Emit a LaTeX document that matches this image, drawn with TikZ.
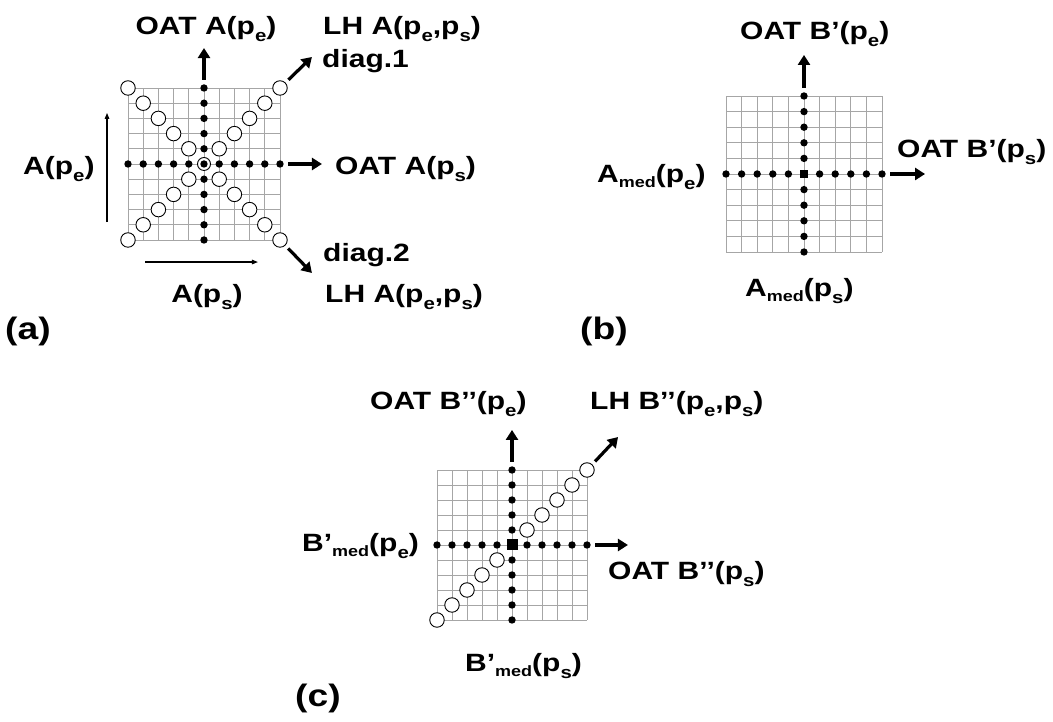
\documentclass[tikz,border=0pt]{standalone}
\usepackage{fontspec}
\setmainfont{Liberation Sans}[FakeStretch=1.2]
\usepackage{tikz}
\usetikzlibrary{arrows.meta}

\newcommand{\sbs}[1]{\raisebox{-7pt}{\fontsize{17}{17}\selectfont #1}}
\newcommand{\med}{\raisebox{-4.5pt}{\fontsize{15}{15}\selectfont med}}

\tikzset{
  gridline/.style={gray!70, line width=0.8pt},
  dot/.style={circle, fill=black, inner sep=0pt, minimum size=7.4pt},
  ring/.style={circle, draw=black, fill=white, line width=0.9pt, inner sep=0pt, minimum size=14.5pt},
  sq/.style={rectangle, fill=black, inner sep=0pt, minimum size=#1},
  bigarrow/.style={line width=3.2pt, -{Triangle[length=10pt,width=12pt]}},
  thinarrow/.style={line width=1.2pt, -{Triangle[length=6pt,width=4.5pt]}},
  lbl/.style={inner sep=0pt, font=\bfseries\fontsize{25}{30}\selectfont},
  tag/.style={inner sep=0pt, font=\bfseries\fontsize{31}{36}\selectfont}
}

\begin{document}
\begin{tikzpicture}[x=1pt,y=1pt]
    \useasboundingbox (0,0) rectangle (1053,722);

    % (a)
    \begin{scope}[shift={(204,558)}, x=15.2pt, y=15.2pt]
        \draw[gridline] (-5,-5) grid[step=1] (5,5);
        \foreach \k in {-5,-4,-3,-2,-1,1,2,3,4,5} {
            \node[dot] (a-h\k) at (\k,0) {};
            \node[dot] (a-v\k) at (0,\k) {};
            \node[ring] (a-d\k) at (\k,\k) {};
            \node[ring] (a-e\k) at ({\k},{-1*\k}) {};
        }
        \node[ring, minimum size=13pt] (a-c) at (0,0) {};
        \node[dot] (a-cd) at (0,0) {};
        \coordinate (a-up) at (0,7.63);
        \coordinate (a-rt) at (7.76,0);
        \coordinate (a-ne) at (7.1,7.04);
        \coordinate (a-se) at (7.1,-7.17);
        \draw[bigarrow, shorten <=4.5pt] (a-v5) -- (a-up);
        \draw[bigarrow, shorten <=4.5pt] (a-h5) -- (a-rt);
        \draw[bigarrow, shorten <=4pt] (a-d5) -- (a-ne);
        \draw[bigarrow, shorten <=4pt] (a-e5) -- (a-se);
        \coordinate (a-pe0) at (-6.38,-3.82);
        \coordinate (a-pe1) at (-6.38,3.36);
        \coordinate (a-ps0) at (-3.88,-6.45);
        \coordinate (a-ps1) at (3.55,-6.45);
        \draw[thinarrow] (a-pe0) -- (a-pe1);
        \draw[thinarrow] (a-ps0) -- (a-ps1);
    \end{scope}
    \node[lbl, anchor=base] (a-tup) at (206,687) {OAT A(p\sbs{e})};
    \node[lbl, anchor=base west] (a-tlh1) at (323,687) {LH A(p\sbs{e},p\sbs{s})};
    \node[lbl, anchor=base west] (a-tdg1) at (322,654) {diag.1};
    \node[lbl, anchor=base west] (a-tpe) at (23,547) {A(p\sbs{e})};
    \node[lbl, anchor=base west] (a-trt) at (335,547) {OAT A(p\sbs{s})};
    \node[lbl, anchor=base west] (a-tdg2) at (323,460) {diag.2};
    \node[lbl, anchor=base] (a-tps) at (207,419) {A(p\sbs{s})};
    \node[lbl, anchor=base west] (a-tlh2) at (325,419) {LH A(p\sbs{e},p\sbs{s})};
    \node[tag, anchor=base west] (a-tag) at (5,382) {(a)};

    % (b)
    \begin{scope}[shift={(804,548)}, x=15.6pt, y=15.6pt]
        \draw[gridline] (-5,-5) grid[step=1] (5,5);
        \foreach \k in {-5,-4,-3,-2,-1,1,2,3,4,5} {
            \node[dot] (b-h\k) at (\k,0) {};
            \node[dot] (b-v\k) at (0,\k) {};
        }
        \node[sq=8pt] (b-c) at (0,0) {};
        \coordinate (b-up) at (0,7.63);
        \coordinate (b-rt) at (7.76,0);
        \draw[bigarrow, shorten <=4.5pt] (b-v5) -- (b-up);
        \draw[bigarrow, shorten <=4.5pt] (b-h5) -- (b-rt);
    \end{scope}
    \node[lbl, anchor=base west] (b-tup) at (740,682) {OAT B’(p\sbs{e})};
    \node[lbl, anchor=base west] (b-trt) at (897,564) {OAT B’(p\sbs{s})};
    \node[lbl, anchor=base west] (b-tpe) at (597,539) {A\med(p\sbs{e})};
    \node[lbl, anchor=base west] (b-tps) at (745,425) {A\med(p\sbs{s})};
    \node[tag, anchor=base west] (b-tag) at (580,382) {(b)};

    % (c)
    \begin{scope}[shift={(512,177)}, x=15pt, y=15pt]
        \draw[gridline] (-5,-5) grid[step=1] (5,5);
        \foreach \k in {-5,-4,-3,-2,-1,1,2,3,4,5} {
            \node[dot] (c-h\k) at (\k,0) {};
            \node[dot] (c-v\k) at (0,\k) {};
            \node[ring] (c-d\k) at (\k,\k) {};
        }
        \node[sq=11pt] (c-c) at (0,0) {};
        \coordinate (c-up) at (0,7.67);
        \coordinate (c-rt) at (7.73,0);
        \coordinate (c-ne) at (7.07,7.2);
        \draw[bigarrow, shorten <=4.5pt] (c-v5) -- (c-up);
        \draw[bigarrow, shorten <=4.5pt] (c-h5) -- (c-rt);
        \draw[bigarrow, shorten <=4pt] (c-d5) -- (c-ne);
    \end{scope}
    \node[lbl, anchor=base west] (c-tup) at (370,312) {OAT B’’(p\sbs{e})};
    \node[lbl, anchor=base west] (c-tlh) at (590,312) {LH B’’(p\sbs{e},p\sbs{s})};
    \node[lbl, anchor=base west] (c-tpe) at (302,170) {B’\med(p\sbs{e})};
    \node[lbl, anchor=base west] (c-trt) at (608,142) {OAT B’’(p\sbs{s})};
    \node[lbl, anchor=base west] (c-tps) at (465,50) {B’\med(p\sbs{s})};
    \node[tag, anchor=base west] (c-tag) at (295,15) {(c)};
\end{tikzpicture}
\end{document}
